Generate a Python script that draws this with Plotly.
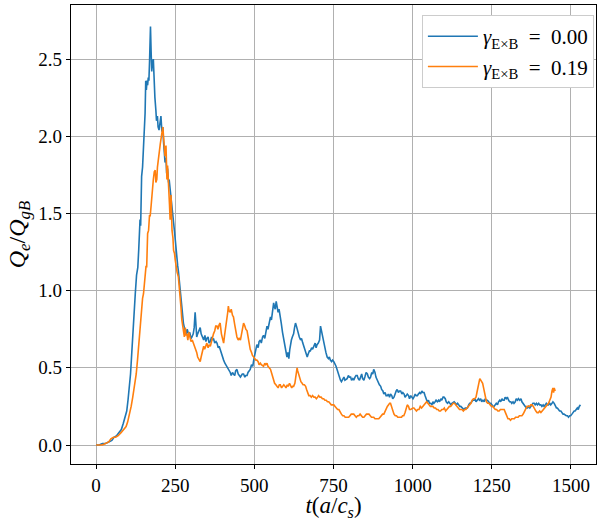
import plotly.graph_objects as go

# Electron heat flux time traces, no shear vs. E x B shear
t_noshear = [
    0, 10, 20, 30, 40, 50, 57, 65, 72, 80, 86, 92, 97, 101, 105, 109, 113, 116, 120, 124,
    128, 132, 135, 139, 141, 144, 147, 150, 152, 155, 157, 159, 161, 163, 165, 167, 169, 171, 172, 174,
    176, 178, 181, 183, 184, 186, 189, 191, 194, 196, 199, 202, 205, 208, 211, 213, 216, 218, 221, 223,
    226, 229, 231, 234, 237, 240, 242, 245, 248, 250, 253, 255, 258, 260, 263, 266, 268, 271, 274, 276,
    279, 282, 285, 288, 292, 296, 300, 303, 307, 310, 313, 315, 318, 321, 325, 329, 332, 336, 340, 344,
    347, 350, 354, 357, 361, 365, 368, 371, 375, 379, 382, 386, 389, 392, 396, 400, 403, 407, 410, 413,
    417, 420, 424, 427, 431, 434, 438, 441, 445, 449, 452, 456, 459, 462, 466, 470, 473, 477, 480, 484,
    487, 491, 495, 498, 501, 505, 508, 512, 515, 519, 522, 526, 529, 533, 536, 540, 543, 547, 551, 554,
    557, 561, 564, 566, 569, 572, 575, 578, 582, 585, 589, 593, 596, 600, 603, 606, 609, 612, 614, 617,
    620, 624, 627, 630, 633, 635, 639, 642, 646, 649, 653, 656, 660, 664, 667, 670, 674, 677, 681, 684,
    688, 692, 695, 698, 702, 706, 709, 712, 714, 717, 719, 723, 726, 730, 734, 737, 740, 744, 747, 751,
    754, 758, 761, 765, 768, 772, 775, 779, 783, 786, 790, 793, 797, 800, 804, 807, 811, 814, 818, 821,
    825, 828, 832, 835, 839, 842, 846, 849, 853, 857, 860, 864, 867, 871, 874, 877, 881, 884, 888, 891,
    895, 899, 902, 906, 909, 913, 916, 920, 923, 927, 930, 934, 937, 941, 944, 948, 951, 955, 958, 962,
    966, 969, 973, 976, 980, 983, 987, 990, 994, 998, 1001, 1004, 1008, 1011, 1015, 1018, 1022, 1025, 1029, 1032,
    1036, 1039, 1043, 1046, 1050, 1053, 1057, 1061, 1064, 1067, 1071, 1074, 1078, 1082, 1085, 1089, 1092, 1096, 1099, 1103,
    1106, 1110, 1114, 1117, 1121, 1124, 1128, 1131, 1135, 1138, 1142, 1145, 1149, 1152, 1156, 1159, 1162, 1166, 1170, 1173,
    1177, 1180, 1183, 1187, 1190, 1194, 1197, 1200, 1204, 1208, 1211, 1215, 1218, 1222, 1226, 1229, 1233, 1236, 1240, 1243,
    1247, 1250, 1254, 1257, 1261, 1264, 1268, 1271, 1275, 1278, 1282, 1285, 1289, 1292, 1296, 1299, 1303, 1306, 1310, 1313,
    1317, 1320, 1324, 1327, 1331, 1334, 1338, 1342, 1345, 1349, 1352, 1356, 1359, 1363, 1366, 1370, 1373, 1377, 1380, 1384,
    1387, 1391, 1394, 1398, 1401, 1405, 1408, 1412, 1415, 1419, 1422, 1426, 1429, 1433, 1436, 1440, 1443, 1447, 1450, 1454,
    1457, 1461, 1464, 1468, 1471, 1475, 1478, 1482, 1485, 1489, 1492, 1496, 1499, 1503, 1506, 1510, 1513, 1517, 1520, 1523,
    1526, 1530,
]
q_noshear = [
    0.00, 0.00, 0.01, 0.01, 0.02, 0.03, 0.05, 0.06, 0.08, 0.10, 0.14, 0.18, 0.22, 0.29, 0.36, 0.46, 0.60, 0.72, 0.86, 0.98,
    1.10, 1.15, 1.27, 1.46, 1.42, 1.74, 1.80, 1.93, 2.04, 2.15, 2.36, 2.30, 2.36, 2.33, 2.38, 2.36, 2.48, 2.62, 2.71, 2.55,
    2.42, 2.47, 2.50, 2.40, 2.32, 2.25, 2.17, 2.10, 2.13, 2.06, 2.04, 2.09, 2.13, 2.03, 2.06, 1.97, 1.90, 1.83, 1.86, 1.76,
    1.79, 1.70, 1.72, 1.65, 1.60, 1.54, 1.49, 1.44, 1.38, 1.33, 1.25, 1.18, 1.16, 1.13, 1.07, 1.00, 0.93, 0.87, 0.81, 0.79,
    0.76, 0.74, 0.72, 0.75, 0.72, 0.73, 0.69, 0.70, 0.72, 0.76, 0.86, 0.80, 0.70, 0.72, 0.74, 0.76, 0.72, 0.70, 0.68, 0.71,
    0.67, 0.69, 0.70, 0.66, 0.67, 0.70, 0.68, 0.69, 0.66, 0.67, 0.66, 0.63, 0.64, 0.62, 0.59, 0.57, 0.55, 0.53, 0.52, 0.51,
    0.49, 0.48, 0.47, 0.45, 0.47, 0.46, 0.45, 0.48, 0.49, 0.46, 0.45, 0.44, 0.45, 0.46, 0.46, 0.44, 0.45, 0.45, 0.47, 0.48,
    0.49, 0.52, 0.51, 0.55, 0.58, 0.62, 0.65, 0.63, 0.67, 0.68, 0.66, 0.70, 0.71, 0.69, 0.74, 0.77, 0.75, 0.80, 0.83, 0.81,
    0.87, 0.92, 0.89, 0.88, 0.93, 0.90, 0.86, 0.88, 0.81, 0.79, 0.73, 0.68, 0.64, 0.60, 0.57, 0.60, 0.56, 0.62, 0.66, 0.68,
    0.70, 0.72, 0.76, 0.79, 0.77, 0.75, 0.72, 0.70, 0.68, 0.69, 0.66, 0.64, 0.61, 0.58, 0.57, 0.59, 0.61, 0.61, 0.63, 0.62,
    0.64, 0.66, 0.63, 0.65, 0.66, 0.68, 0.77, 0.74, 0.70, 0.68, 0.66, 0.63, 0.60, 0.57, 0.56, 0.57, 0.55, 0.54, 0.55, 0.54,
    0.53, 0.51, 0.49, 0.46, 0.44, 0.42, 0.41, 0.43, 0.44, 0.42, 0.43, 0.43, 0.45, 0.44, 0.44, 0.42, 0.43, 0.42, 0.44, 0.45,
    0.45, 0.43, 0.42, 0.44, 0.46, 0.43, 0.42, 0.44, 0.47, 0.46, 0.44, 0.43, 0.44, 0.47, 0.46, 0.49, 0.47, 0.44, 0.42, 0.41,
    0.39, 0.38, 0.36, 0.35, 0.33, 0.34, 0.32, 0.32, 0.33, 0.31, 0.33, 0.32, 0.30, 0.31, 0.33, 0.35, 0.36, 0.34, 0.35, 0.35,
    0.33, 0.34, 0.33, 0.31, 0.32, 0.33, 0.32, 0.30, 0.32, 0.31, 0.30, 0.31, 0.33, 0.32, 0.32, 0.33, 0.34, 0.33, 0.35, 0.34,
    0.34, 0.32, 0.30, 0.28, 0.29, 0.27, 0.27, 0.26, 0.28, 0.27, 0.28, 0.29, 0.28, 0.29, 0.28, 0.30, 0.29, 0.31, 0.31, 0.30,
    0.28, 0.27, 0.28, 0.27, 0.26, 0.27, 0.28, 0.28, 0.27, 0.26, 0.27, 0.26, 0.25, 0.25, 0.24, 0.23, 0.23, 0.24, 0.24, 0.24,
    0.26, 0.27, 0.27, 0.28, 0.29, 0.29, 0.30, 0.28, 0.29, 0.30, 0.29, 0.30, 0.28, 0.29, 0.28, 0.30, 0.29, 0.29, 0.28, 0.27,
    0.27, 0.26, 0.25, 0.25, 0.26, 0.27, 0.26, 0.28, 0.29, 0.28, 0.30, 0.29, 0.29, 0.31, 0.30, 0.31, 0.29, 0.28, 0.28, 0.27,
    0.28, 0.27, 0.28, 0.30, 0.29, 0.30, 0.29, 0.30, 0.28, 0.27, 0.26, 0.25, 0.24, 0.24, 0.25, 0.24, 0.25, 0.26, 0.27, 0.27,
    0.26, 0.27, 0.26, 0.27, 0.26, 0.26, 0.25, 0.26, 0.25, 0.26, 0.27, 0.26, 0.26, 0.27, 0.26, 0.27, 0.28, 0.27, 0.26, 0.24,
    0.24, 0.23, 0.22, 0.22, 0.21, 0.20, 0.20, 0.19, 0.19, 0.19, 0.18, 0.19, 0.19, 0.20, 0.21, 0.22, 0.22, 0.23, 0.24, 0.23,
    0.25, 0.26,
]

t_shear = [
    0, 10, 20, 30, 40, 47, 55, 62, 70, 79, 87, 95, 100, 105, 111, 116, 121, 127, 131, 134,
    137, 140, 142, 144, 147, 150, 153, 156, 158, 160, 163, 166, 169, 171, 174, 176, 178, 181, 184, 187,
    189, 192, 194, 197, 200, 203, 206, 208, 211, 213, 216, 218, 221, 224, 226, 229, 232, 234, 237, 240,
    243, 245, 248, 250, 253, 256, 260, 263, 266, 268, 271, 274, 276, 279, 282, 284, 287, 290, 293, 297,
    300, 304, 308, 311, 314, 318, 321, 325, 329, 332, 336, 340, 343, 347, 350, 354, 357, 361, 364, 368,
    371, 375, 378, 382, 385, 389, 392, 396, 400, 403, 406, 410, 413, 416, 418, 420, 424, 427, 431, 434,
    438, 441, 445, 449, 452, 456, 459, 463, 466, 470, 473, 477, 480, 484, 487, 491, 494, 498, 501, 505,
    508, 512, 515, 519, 522, 526, 529, 533, 536, 540, 543, 547, 551, 554, 558, 561, 564, 568, 572, 575,
    579, 582, 586, 590, 593, 597, 600, 604, 607, 611, 614, 618, 621, 624, 628, 631, 635, 637, 640, 643,
    647, 651, 654, 658, 662, 665, 669, 672, 676, 680, 684, 688, 692, 696, 700, 703, 707, 711, 715, 719,
    723, 727, 731, 735, 739, 743, 747, 751, 755, 759, 763, 767, 771, 775, 779, 783, 787, 791, 795, 798,
    802, 806, 810, 814, 818, 822, 826, 830, 834, 838, 842, 846, 850, 854, 858, 862, 866, 870, 874, 877,
    881, 885, 889, 893, 897, 901, 905, 909, 913, 917, 920, 924, 927, 930, 934, 937, 941, 945, 949, 953,
    957, 961, 965, 968, 972, 976, 979, 983, 987, 990, 994, 998, 1001, 1004, 1008, 1012, 1016, 1020, 1024, 1028,
    1032, 1036, 1040, 1044, 1048, 1052, 1056, 1060, 1064, 1068, 1072, 1076, 1080, 1084, 1088, 1092, 1096, 1100, 1104, 1108,
    1112, 1116, 1120, 1124, 1128, 1132, 1136, 1140, 1144, 1148, 1152, 1156, 1160, 1164, 1168, 1172, 1176, 1180, 1184, 1188,
    1192, 1196, 1200, 1203, 1206, 1209, 1212, 1215, 1218, 1221, 1224, 1227, 1230, 1233, 1237, 1241, 1245, 1249, 1253, 1257,
    1261, 1265, 1269, 1273, 1277, 1281, 1285, 1289, 1293, 1297, 1301, 1305, 1309, 1313, 1317, 1321, 1325, 1329, 1333, 1337,
    1341, 1345, 1349, 1353, 1357, 1361, 1365, 1369, 1373, 1377, 1381, 1385, 1389, 1393, 1397, 1401, 1405, 1409, 1413, 1417,
    1421, 1425, 1429, 1433, 1437, 1440, 1443, 1445, 1447, 1450,
]
q_shear = [
    0.00, 0.00, 0.00, 0.01, 0.02, 0.04, 0.05, 0.05, 0.06, 0.08, 0.10, 0.12, 0.15, 0.19, 0.25, 0.31, 0.38, 0.46, 0.55, 0.63,
    0.72, 0.82, 0.88, 0.92, 0.95, 0.98, 1.05, 1.10, 1.16, 1.15, 1.37, 1.39, 1.49, 1.48, 1.55, 1.61, 1.70, 1.72, 1.77, 1.78,
    1.70, 1.72, 1.80, 1.87, 1.90, 1.95, 1.98, 2.02, 2.06, 1.98, 1.93, 1.87, 1.94, 1.72, 1.81, 1.61, 1.56, 1.46, 1.62, 1.39,
    1.34, 1.26, 1.24, 1.20, 1.15, 1.12, 1.09, 1.03, 0.96, 0.90, 0.81, 0.76, 0.72, 0.70, 0.76, 0.71, 0.72, 0.68, 0.73, 0.70,
    0.67, 0.68, 0.66, 0.64, 0.63, 0.60, 0.57, 0.55, 0.54, 0.57, 0.61, 0.64, 0.62, 0.65, 0.66, 0.63, 0.65, 0.64, 0.67, 0.70,
    0.72, 0.74, 0.77, 0.77, 0.75, 0.78, 0.79, 0.72, 0.68, 0.66, 0.71, 0.76, 0.81, 0.86, 0.90, 0.87, 0.86, 0.88, 0.84, 0.83,
    0.78, 0.73, 0.70, 0.68, 0.69, 0.68, 0.71, 0.76, 0.79, 0.77, 0.75, 0.74, 0.70, 0.66, 0.62, 0.60, 0.58, 0.57, 0.56, 0.55,
    0.55, 0.54, 0.52, 0.53, 0.52, 0.51, 0.51, 0.53, 0.52, 0.53, 0.51, 0.50, 0.49, 0.47, 0.44, 0.42, 0.40, 0.39, 0.38, 0.37,
    0.39, 0.39, 0.37, 0.38, 0.39, 0.38, 0.37, 0.39, 0.38, 0.40, 0.39, 0.37, 0.38, 0.38, 0.40, 0.45, 0.50, 0.48, 0.46, 0.43,
    0.41, 0.40, 0.39, 0.39, 0.38, 0.36, 0.34, 0.32, 0.32, 0.31, 0.32, 0.31, 0.31, 0.30, 0.31, 0.32, 0.31, 0.31, 0.30, 0.30,
    0.29, 0.29, 0.28, 0.28, 0.27, 0.26, 0.26, 0.26, 0.25, 0.24, 0.23, 0.23, 0.21, 0.20, 0.19, 0.19, 0.18, 0.18, 0.18, 0.18,
    0.19, 0.20, 0.20, 0.20, 0.19, 0.18, 0.19, 0.19, 0.20, 0.19, 0.18, 0.18, 0.19, 0.20, 0.20, 0.20, 0.19, 0.18, 0.18, 0.18,
    0.17, 0.17, 0.17, 0.17, 0.18, 0.19, 0.20, 0.20, 0.22, 0.24, 0.25, 0.26, 0.27, 0.27, 0.24, 0.22, 0.20, 0.19, 0.19, 0.18,
    0.18, 0.18, 0.18, 0.19, 0.19, 0.21, 0.24, 0.26, 0.25, 0.23, 0.23, 0.24, 0.24, 0.24, 0.23, 0.22, 0.23, 0.23, 0.25, 0.24,
    0.25, 0.26, 0.27, 0.28, 0.27, 0.26, 0.25, 0.25, 0.25, 0.24, 0.24, 0.23, 0.23, 0.22, 0.22, 0.23, 0.23, 0.24, 0.22, 0.23,
    0.24, 0.25, 0.25, 0.26, 0.27, 0.27, 0.26, 0.25, 0.24, 0.23, 0.23, 0.23, 0.22, 0.23, 0.23, 0.24, 0.25, 0.26, 0.27, 0.29,
    0.30, 0.30, 0.31, 0.34, 0.37, 0.40, 0.43, 0.42, 0.41, 0.40, 0.37, 0.34, 0.31, 0.28, 0.27, 0.27, 0.26, 0.25, 0.25, 0.24,
    0.23, 0.23, 0.22, 0.22, 0.23, 0.23, 0.23, 0.23, 0.21, 0.19, 0.17, 0.17, 0.16, 0.17, 0.17, 0.17, 0.18, 0.18, 0.18, 0.19,
    0.19, 0.19, 0.20, 0.22, 0.24, 0.25, 0.25, 0.25, 0.26, 0.26, 0.25, 0.23, 0.22, 0.21, 0.21, 0.22, 0.21, 0.22, 0.23, 0.24,
    0.25, 0.26, 0.27, 0.29, 0.31, 0.35, 0.37, 0.34, 0.37, 0.35,
]

legend_names = ["<i>γ</i><sub>E×B</sub>\u2002=\u20020.00", "<i>γ</i><sub>E×B</sub>\u2002=\u20020.19"]
x_ticks = [0, 250, 500, 750, 1000, 1250, 1500]
y_ticks = [0.0, 0.5, 1.0, 1.5, 2.0, 2.5]

FONT = "Liberation Serif, DejaVu Serif, serif"

fig = go.Figure()
fig.add_trace(go.Scatter(x=t_noshear, y=q_noshear, mode="lines", name=legend_names[0],
                         line=dict(color="#1f77b4", width=1.6)))
fig.add_trace(go.Scatter(x=t_shear, y=q_shear, mode="lines", name=legend_names[1],
                         line=dict(color="#ff7f0e", width=1.6)))

axis_common = dict(
    showline=True, mirror=True, linecolor="black", linewidth=1.2,
    showgrid=True, gridcolor="#b0b0b0", gridwidth=1,
    ticks="outside", ticklen=4, tickcolor="black", tickwidth=1,
    zeroline=False,
    tickfont=dict(family=FONT, size=19, color="black"),
)

fig.update_layout(
    width=597, height=521,
    margin=dict(l=71, r=1, t=5, b=57),
    paper_bgcolor="white", plot_bgcolor="white",
    font=dict(family=FONT, color="black"),
    xaxis=dict(
        range=[-79, 1579], tickvals=x_ticks,
        ticktext=[str(v) for v in x_ticks],
        title=dict(text="<i>t</i>(<i>a</i>/<i>c<sub>s</sub></i>)", font=dict(family=FONT, size=23), standoff=9),
        **axis_common,
    ),
    yaxis=dict(
        range=[-0.123, 2.850], tickvals=y_ticks,
        ticktext=[f"{v:.1f}" for v in y_ticks],
        title=dict(text="<i>Q<sub>e</sub></i>/<i>Q<sub>gB</sub></i>", font=dict(family=FONT, size=24), standoff=5),
        **axis_common,
    ),
    legend=dict(
        x=0.996, y=0.978, xanchor="right", yanchor="top",
        bgcolor="white", bordercolor="#cccccc", borderwidth=1,
        font=dict(family=FONT, size=21, color="black"),
        itemwidth=50, tracegroupgap=2,
    ),
    showlegend=True,
)

fig.write_html("out.html")
